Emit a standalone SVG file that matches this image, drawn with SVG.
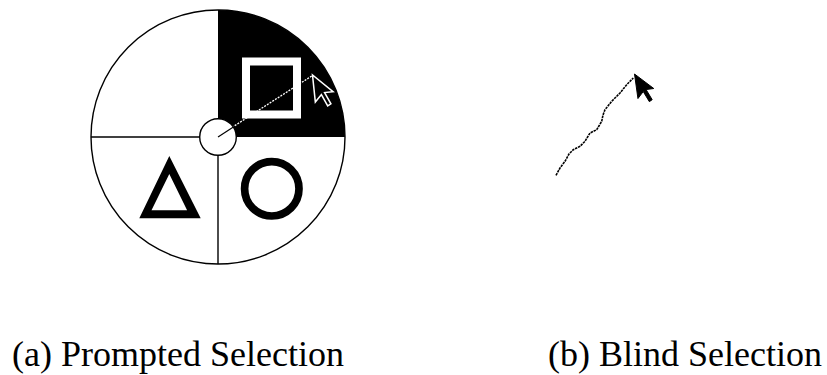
<svg xmlns="http://www.w3.org/2000/svg" width="827" height="375" viewBox="0 0 827 375">
<style>
.thin{fill:none;stroke:#000;stroke-width:1.4}
</style>
<defs>
<path id="cur" d="M0,0 L0,16 L4,12 L7,19 L9,18 L6,11 L11,11 Z"/>
</defs>
<rect width="827" height="375" fill="#fff"/>
<g id="pie">
<path d="M218,137 L218,10 A127,127 0 0 1 345,137 Z" fill="#000"/>
<circle class="thin" cx="218" cy="137" r="127"/>
<line class="thin" x1="91" y1="137" x2="218" y2="137"/>
<line class="thin" x1="218" y1="137" x2="218" y2="264"/>
</g>
<g id="square">
<rect x="246" y="61.5" width="51" height="53" fill="#000" stroke="#fff" stroke-width="8"/>
</g>
<g id="triangle">
<path d="M169.3,156 L139.3,218.3 L200.7,218.3 Z M169.3,174.1 L151.5,210.3 L187.1,210.3 Z" fill="#000" fill-rule="evenodd"/>
</g>
<g id="circle-item">
<circle cx="271.8" cy="188.8" r="27.2" fill="none" stroke="#000" stroke-width="7.7"/>
</g>
<g id="connectors">
<line x1="232" y1="127.4" x2="312.5" y2="75.5" stroke="#fff" stroke-width="1.3" stroke-dasharray="2 1.2"/>
<circle cx="218" cy="137" r="18.3" fill="#fff" stroke="#000" stroke-width="1.4"/>
<line x1="218" y1="137" x2="233" y2="127.3" stroke="#000" stroke-width="1.2"/>
<path d="M556,175.3 L560,168 L565,161.3 L569,154 L573.3,149.7 L580,146.3 L585,141.3 L590,133 L596.7,129.7 L601.7,121.3 L603,115 L605,109.7 L611.7,101.3 L620,93 L626.7,84.7 L633.3,78" fill="none" stroke="#000" stroke-width="1.6" stroke-dasharray="2.5 0.8"/>
</g>
<g id="cursor-a">
<use href="#cur" transform="translate(312.5,75) rotate(-6) scale(1.7)" fill="#000" stroke="#fff" stroke-width="0.9"/>
</g>
<g id="cursor-b">
<use href="#cur" transform="translate(634.5,74) rotate(-8) scale(1.55)" fill="#000" stroke="#000" stroke-width="0.6"/>
</g>
<g id="labels" font-family="Liberation Serif, Tinos, Times New Roman, DejaVu Serif, serif" font-size="36" fill="#000">
<text x="12" y="366">(a) Prompted Selection</text>
<text x="548" y="366">(b) Blind Selection</text>
</g>
</svg>
